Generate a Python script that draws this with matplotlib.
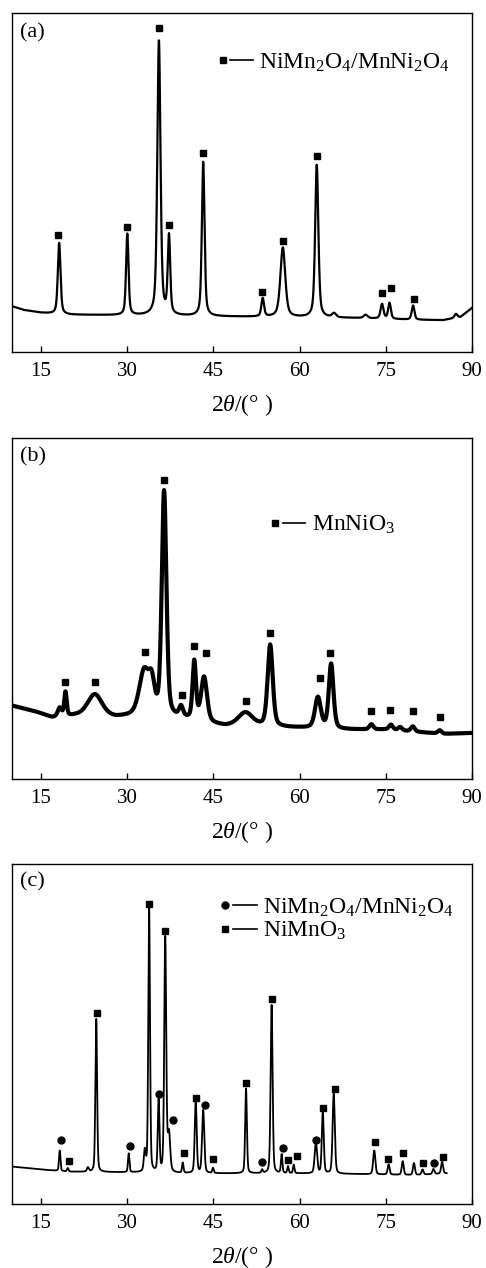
import numpy as np
import matplotlib
matplotlib.use('Agg')
import matplotlib.pyplot as plt

plt.rcParams['font.family'] = ['Liberation Serif', 'DejaVu Serif']
plt.rcParams['mathtext.fontset'] = 'custom'
plt.rcParams['mathtext.rm'] = 'Liberation Serif'
plt.rcParams['mathtext.it'] = 'Liberation Serif:italic'

# ---------------- data ----------------
xticks = [15, 30, 45, 60, 75, 90]

# Panel (a)
a_base_x = [10, 12, 15, 17, 20, 30, 40, 50, 60, 70, 80, 85, 88, 90]
a_base_y = [13.5, 12.4, 11.6, 11.3, 11.0, 10.8, 10.6, 10.4, 10.2, 10.0, 9.5, 9.4, 10.3, 13.0]
a_pk_c = [18.2, 30.05, 35.55, 37.3, 43.25, 53.6, 57.1, 63.0, 66.0, 71.5, 74.35, 75.65, 79.75, 87.2]
a_pk_h = [21.0, 24.0, 81.0, 23.0, 45.5, 5.4, 20.5, 45.0, 1.2, 1.0, 4.3, 4.7, 4.2, 1.2]
a_pk_w = [0.55, 0.5, 0.65, 0.5, 0.55, 0.55, 1.0, 0.65, 0.8, 0.8, 0.6, 0.55, 0.55, 0.6]
a_sq_x = [18.0, 30.0, 35.6, 37.35, 43.2, 53.55, 57.1, 63.1, 74.3, 75.95, 79.85]
a_sq_y = [34.4, 37.0, 95.5, 37.5, 58.8, 17.8, 32.6, 57.8, 17.5, 18.9, 15.5]

# Panel (b)
b_base_x = [10, 14, 17, 21, 28, 32, 40, 47, 60, 67, 75, 85, 90]
b_base_y = [21.5, 19.8, 18.0, 18.5, 18.0, 18.5, 17.5, 15.5, 15.0, 14.5, 14.5, 13.2, 13.5]
b_pk_c = [18.3, 19.3, 24.4, 33.0, 34.3, 36.45, 39.4, 41.7, 43.4, 50.6, 54.9, 63.2, 65.5, 72.5, 75.9, 77.5, 79.7, 84.4]
b_pk_h = [2.5, 7.0, 6.5, 13.0, 8.0, 66.0, 3.0, 17.0, 13.0, 4.0, 24.0, 9.0, 19.0, 1.5, 1.5, 1.0, 1.5, 1.0]
b_pk_w = [0.8, 0.5, 3.0, 2.0, 1.2, 0.95, 0.8, 0.7, 1.2, 3.0, 1.05, 1.2, 0.95, 0.8, 0.8, 0.8, 0.8, 0.8]
b_sq_x = [19.3, 24.35, 33.2, 36.35, 39.55, 41.65, 43.7, 50.65, 54.9, 63.5, 65.25, 72.5, 75.8, 79.7, 84.4]
b_sq_y = [28.4, 28.3, 37.2, 87.6, 24.6, 39.0, 36.9, 23.0, 42.8, 29.5, 36.9, 19.8, 20.3, 20.0, 18.1]

# Panel (c)
c_base_x = [10, 13, 16, 20, 30, 40, 50, 60, 70, 80, 85.6]
c_base_y = [11.0, 10.5, 10.0, 9.5, 9.3, 9.0, 9.0, 9.0, 8.8, 8.5, 9.0]
c_pk_c = [18.3, 19.7, 23.2, 24.65, 30.3, 33.1, 33.85, 35.5, 36.65, 37.3, 39.7, 41.95, 43.25, 44.95,
          50.7, 53.5, 55.15, 56.9, 58.0, 59.0, 62.85, 64.05, 65.95, 73.0, 75.5, 77.95, 79.9, 81.4, 83.3, 84.8]
c_pk_h = [6.0, 1.0, 1.2, 45.0, 5.5, 6.0, 77.5, 21.0, 69.0, 11.0, 3.0, 21.0, 18.5, 1.5,
          25.0, 1.0, 49.5, 5.5, 2.0, 2.5, 9.0, 18.0, 23.5, 7.0, 3.0, 4.0, 3.5, 1.5, 1.5, 3.5]
c_pk_w = [0.3, 0.3, 0.4, 0.35, 0.3, 0.4, 0.35, 0.35, 0.4, 0.5, 0.3, 0.4, 0.45, 0.3,
          0.35, 0.3, 0.4, 0.3, 0.3, 0.3, 0.5, 0.4, 0.45, 0.45, 0.4, 0.4, 0.4, 0.4, 0.4, 0.4]
c_ci_x = [18.55, 30.5, 35.55, 38.0, 43.5, 53.55, 57.15, 62.85, 83.45]
c_ci_y = [18.8, 17.1, 32.5, 24.7, 29.0, 12.4, 16.4, 18.7, 12.2]
c_sq_x = [19.9, 24.7, 33.85, 36.55, 39.95, 42.0, 44.95, 50.75, 55.15, 58.05, 59.5, 64.0, 66.1,
          73.05, 75.35, 77.95, 81.4, 85.0]
c_sq_y = [12.7, 56.1, 88.1, 80.4, 14.9, 31.3, 13.3, 35.7, 60.4, 12.9, 14.2, 28.2, 33.7,
          18.2, 13.1, 14.9, 12.0, 13.9]

label_a = r"NiMn$_2$O$_4$/MnNi$_2$O$_4$"
label_b = r"MnNiO$_3$"
label_c1 = r"NiMn$_2$O$_4$/MnNi$_2$O$_4$"
label_c2 = r"NiMnO$_3$"
xlabel = r"2$\theta$/(° )"


def pattern(x, bx, by, cs, hs, ws, eta=0.4):
    y = np.interp(x, bx, by)
    for c, h, w in zip(cs, hs, ws):
        hw = w / 2.0
        lor = 1.0 / (1.0 + ((x - c) / hw) ** 2)
        gau = np.exp(-np.log(2) * ((x - c) / hw) ** 2)
        y = y + h * (eta * lor + (1 - eta) * gau)
    return y


fig = plt.figure(figsize=(4.86, 12.68), dpi=100)
L, W = 12 / 486, 460 / 486
axa = fig.add_axes([L, 1 - 352 / 1268, W, 339 / 1268])
axb = fig.add_axes([L, 1 - 779 / 1268, W, 341 / 1268])
axc = fig.add_axes([L, 1 - 1204 / 1268, W, 340 / 1268])

FS_TICK = 15
FS_LAB = 17
FS_LEG = 17
FS_PAN = 16

for ax in (axa, axb, axc):
    ax.set_xlim(10, 90)
    ax.set_ylim(0, 100)
    ax.set_xticks(xticks)
    ax.set_yticks([])
    ax.tick_params(axis='x', direction='in', length=4, width=1, labelsize=FS_TICK, pad=7)
    for s in ax.spines.values():
        s.set_linewidth(1.0)
    ax.set_xlabel(xlabel, fontsize=FS_LAB, labelpad=8)

# (a)
xa = np.linspace(10, 90, 4001)
axa.plot(xa, pattern(xa, a_base_x, a_base_y, a_pk_c, a_pk_h, a_pk_w, eta=0.5), color='black', lw=1.6)
axa.plot(a_sq_x, a_sq_y, ls='none', marker='s', ms=4.8, color='black')
axa.text(0.017, 0.94, "(a)", transform=axa.transAxes, fontsize=FS_PAN, va='center', ha='left')
axa.plot([0.458], [0.861], transform=axa.transAxes, marker='s', ms=4.8, color='black')
axa.plot([0.474, 0.524], [0.861, 0.861], transform=axa.transAxes, color='black', lw=1.2)
axa.text(0.537, 0.854, label_a, transform=axa.transAxes, fontsize=FS_LEG, va='center', ha='left')

# (b)
xb = np.linspace(10, 90, 4001)
axb.plot(xb, pattern(xb, b_base_x, b_base_y, b_pk_c, b_pk_h, b_pk_w), color='black', lw=3.0)
axb.plot(b_sq_x, b_sq_y, ls='none', marker='s', ms=4.8, color='black')
axb.text(0.017, 0.944, "(b)", transform=axb.transAxes, fontsize=FS_PAN, va='center', ha='left')
axb.plot([0.572], [0.751], transform=axb.transAxes, marker='s', ms=4.8, color='black')
axb.plot([0.589, 0.637], [0.751, 0.751], transform=axb.transAxes, color='black', lw=1.2)
axb.text(0.652, 0.744, label_b, transform=axb.transAxes, fontsize=FS_LEG, va='center', ha='left')

# (c)
xc = np.linspace(10, 85.6, 4001)
axc.plot(xc, pattern(xc, c_base_x, c_base_y, c_pk_c, c_pk_h, c_pk_w, eta=0.3), color='black', lw=1.3)
axc.plot(c_ci_x, c_ci_y, ls='none', marker='o', ms=5.0, color='black')
axc.plot(c_sq_x, c_sq_y, ls='none', marker='s', ms=4.8, color='black')
axc.text(0.017, 0.947, "(c)", transform=axc.transAxes, fontsize=FS_PAN, va='center', ha='left')
axc.plot([0.463], [0.879], transform=axc.transAxes, marker='o', ms=5.0, color='black')
axc.plot([0.480, 0.533], [0.879, 0.879], transform=axc.transAxes, color='black', lw=1.2)
axc.text(0.546, 0.872, label_c1, transform=axc.transAxes, fontsize=FS_LEG, va='center', ha='left')
axc.plot([0.463], [0.809], transform=axc.transAxes, marker='s', ms=4.8, color='black')
axc.plot([0.480, 0.533], [0.809, 0.809], transform=axc.transAxes, color='black', lw=1.2)
axc.text(0.546, 0.802, label_c2, transform=axc.transAxes, fontsize=FS_LEG, va='center', ha='left')

fig.savefig('out.png', dpi=100)
